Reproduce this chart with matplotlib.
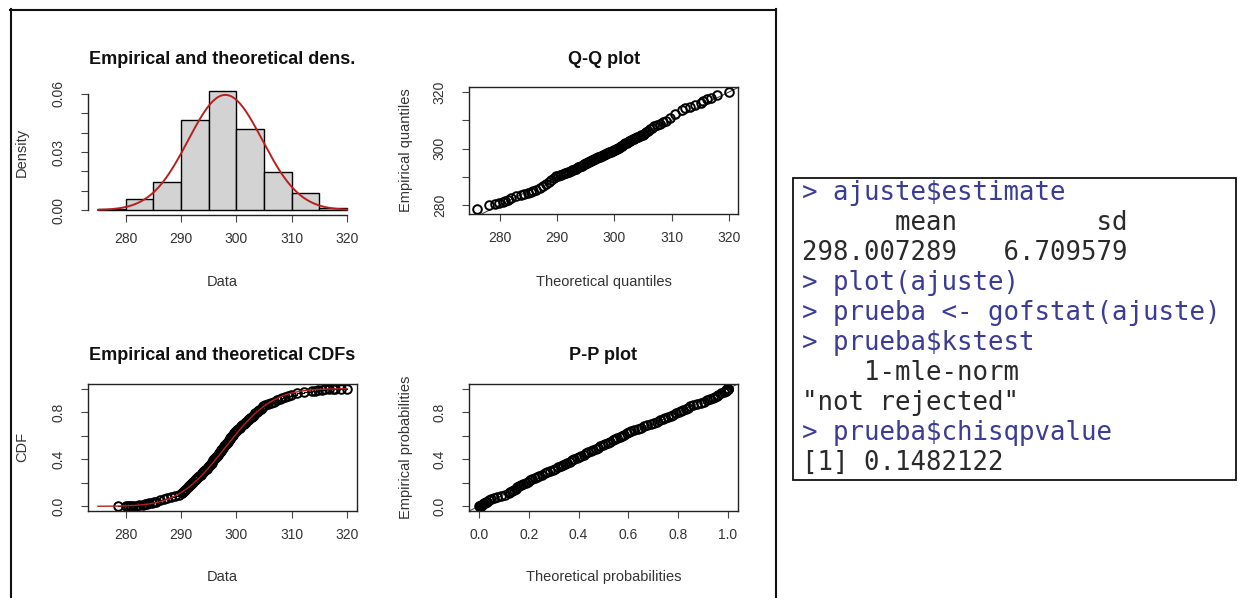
import statistics
import matplotlib
matplotlib.use("Agg")
import matplotlib.pyplot as plt
from matplotlib.lines import Line2D
from matplotlib.patches import Rectangle

plt.rcParams['font.family'] = ['Liberation Sans', 'DejaVu Sans']

W, H = 1238, 598

# ajuste$estimate (from the console output)
est_mean = 298.007289
est_sd = 6.709579

bin_edges = [275, 280, 285, 290, 295, 300, 305, 310, 315, 320]
bin_density = [0.0008, 0.0057, 0.0143, 0.0466, 0.0614, 0.0421, 0.0195, 0.0087, 0.0009]

emp_prob = [0.0005, 0.0015, 0.0025, 0.0035, 0.0045, 0.0055, 0.0065, 0.0085,
            0.012, 0.016, 0.020, 0.025, 0.030, 0.035,
            0.04, 0.05, 0.06, 0.07, 0.08, 0.09, 0.10,
            0.11, 0.12, 0.13, 0.14, 0.15, 0.16, 0.17, 0.18, 0.19, 0.20,
            0.21, 0.22, 0.23, 0.24, 0.25, 0.26, 0.27, 0.28, 0.29, 0.30,
            0.31, 0.32, 0.33, 0.34, 0.35, 0.36, 0.37, 0.38, 0.39, 0.40,
            0.41, 0.42, 0.43, 0.44, 0.45, 0.46, 0.47, 0.48, 0.49, 0.50,
            0.51, 0.52, 0.53, 0.54, 0.55, 0.56, 0.57, 0.58, 0.59, 0.60,
            0.61, 0.62, 0.63, 0.64, 0.65, 0.66, 0.67, 0.68, 0.69, 0.70,
            0.71, 0.72, 0.73, 0.74, 0.75, 0.76, 0.77, 0.78, 0.79, 0.80,
            0.81, 0.82, 0.83, 0.84, 0.85, 0.86, 0.87, 0.88, 0.89, 0.90,
            0.91, 0.92, 0.93, 0.94, 0.95, 0.96, 0.97, 0.98,
            0.984, 0.988, 0.992, 0.9945, 0.9955, 0.9965, 0.9975, 0.9985, 0.9995]
emp_quant = [278.6, 280.0, 280.35, 280.7, 280.9, 281.4, 281.8, 282.5,
             283.1, 283.5, 283.8, 284.3, 284.7, 285.1,
             285.45, 286.15, 286.85, 287.55, 288.25, 288.95, 289.65,
             290.11, 290.32, 290.54, 290.75, 290.97, 291.18, 291.39, 291.61, 291.82, 292.04,
             292.25, 292.47, 292.68, 292.90, 293.11, 293.33, 293.54, 293.76, 293.97, 294.18,
             294.40, 294.61, 294.83, 295.03, 295.20, 295.36, 295.52, 295.68, 295.85, 296.01,
             296.17, 296.34, 296.50, 296.66, 296.82, 296.99, 297.15, 297.31, 297.48, 297.64,
             297.80, 297.96, 298.13, 298.29, 298.45, 298.62, 298.78, 298.94, 299.10, 299.27,
             299.43, 299.59, 299.76, 299.92, 300.12, 300.36, 300.60, 300.83, 301.07, 301.31,
             301.55, 301.79, 302.02, 302.26, 302.50, 302.74, 302.98, 303.21, 303.45, 303.69,
             303.93, 304.17, 304.40, 304.64, 304.88, 305.26, 305.77, 306.28, 306.79, 307.30,
             307.81, 308.32, 308.83, 309.34, 309.85, 310.95, 312.30, 313.65,
             314.2, 314.7, 315.4, 316.1, 316.8, 317.5, 317.9, 318.9, 320.0]

# ticks
data_ticks = [280, 290, 300, 310, 320]
dens_ticks = [0.00, 0.01, 0.02, 0.03, 0.04, 0.05, 0.06]
dens_labels = ['0.00', '', '', '0.03', '', '', '0.06']
qq_ylabels = ['280', '', '300', '', '320']
prob_ticks = [0.0, 0.2, 0.4, 0.6, 0.8, 1.0]
prob_ylabels = ['0.0', '', '0.4', '', '0.8', '']
prob_xlabels = ['0.0', '0.2', '0.4', '0.6', '0.8', '1.0']

console_lines = [
    ("> ajuste$estimate", True),
    ("      mean         sd", False),
    ("298.007289   6.709579", False),
    ("> plot(ajuste)", True),
    ("> prueba <- gofstat(ajuste)", True),
    ("> prueba$kstest", True),
    ("    1-mle-norm", False),
    ('"not rejected"', False),
    ("> prueba$chisqpvalue", True),
    ("[1] 0.1482122", False),
]

fig = plt.figure(figsize=(W / 100, H / 100), dpi=100)


def px_axes(x0, y0, x1, y1):
    return fig.add_axes([x0 / W, 1 - y1 / H, (x1 - x0) / W, (y1 - y0) / H])


def px_text(x, y, s, **kw):
    fig.text(x / W, 1 - y / H, s, ha='center', va='center', **kw)


def r_style(ax):
    for s in ax.spines.values():
        s.set_linewidth(1.0)
        s.set_color('#222222')
    ax.tick_params(length=5, width=0.8, color='#444444', labelsize=10, labelcolor='#333333')
    ax.tick_params(axis='x', pad=7)
    ax.tick_params(axis='y', pad=11)
    for lbl in ax.get_xticklabels() + ax.get_yticklabels():
        lbl.set_fontfamily(['Liberation Sans Narrow', 'Liberation Sans'])
    plt.setp(ax.get_yticklabels(), rotation=90, va='center')


pt_kw = dict(linestyle='none', marker='o', mfc='none', mec='black', ms=6.2, mew=1.4)

nd = statistics.NormalDist(est_mean, est_sd)
grid = [275 + 0.25 * i for i in range(181)]

# --- density panel
ax1 = px_axes(88, 89, 357, 215)
ax1.bar(bin_edges[:-1], bin_density, width=5, align='edge', color='#d3d3d3',
        edgecolor='black', linewidth=1.0)
ax1.plot(grid, [nd.pdf(x) for x in grid], color='#b82020', lw=1.4)
ax1.set_xlim(273.2, 321.8)
ax1.set_ylim(-0.0025, 0.0625)
ax1.set_xticks(data_ticks, [str(t) for t in data_ticks])
ax1.set_yticks(dens_ticks, dens_labels)
ax1.spines['top'].set_visible(False)
ax1.spines['right'].set_visible(False)
ax1.spines['left'].set_bounds(0, 0.06)
ax1.spines['bottom'].set_bounds(280, 320)
r_style(ax1)

# --- Q-Q panel
ax2 = px_axes(469, 87, 738, 214)
theo_q = [nd.inv_cdf(p) for p in emp_prob]
ax2.axline((280, 280), slope=1, color='#333333', lw=0.7)
ax2.plot(theo_q, emp_quant, **pt_kw)
ax2.set_xlim(274.6, 321.6)
ax2.set_ylim(276.8, 321.8)
ax2.set_xticks(data_ticks, [str(t) for t in data_ticks])
ax2.set_yticks(data_ticks, qq_ylabels)
r_style(ax2)

# --- CDF panel
ax3 = px_axes(88, 384, 357, 511)
ax3.step(emp_quant, emp_prob, where='post', color='black', lw=0.8)
ax3.plot(emp_quant, emp_prob, **pt_kw)
ax3.plot(grid, [nd.cdf(x) for x in grid], color='#b82020', lw=1.0)
ax3.set_xlim(273.2, 321.8)
ax3.set_ylim(-0.04, 1.04)
ax3.set_xticks(data_ticks, [str(t) for t in data_ticks])
ax3.set_yticks(prob_ticks, prob_ylabels)
r_style(ax3)

# --- P-P panel
ax4 = px_axes(469, 384, 738, 511)
theo_p = [nd.cdf(q) for q in emp_quant]
ax4.axline((0, 0), slope=1, color='#333333', lw=0.7)
ax4.plot(theo_p, emp_prob, **pt_kw)
ax4.set_xlim(-0.04, 1.04)
ax4.set_ylim(-0.04, 1.04)
ax4.set_xticks(prob_ticks, prob_xlabels)
ax4.set_yticks(prob_ticks, prob_ylabels)
r_style(ax4)

# titles and axis labels
title_kw = dict(fontsize=13, fontweight='bold', color='#111111')
label_kw = dict(fontsize=10.5, color='#333333')
px_text(222, 59, "Empirical and theoretical dens.", **title_kw)
px_text(604, 59, "Q-Q plot", **title_kw)
px_text(222, 355, "Empirical and theoretical CDFs", **title_kw)
px_text(603, 355, "P-P plot", **title_kw)
px_text(222, 282, "Data", **label_kw)
px_text(604, 282, "Theoretical quantiles", **label_kw)
px_text(222, 577, "Data", **label_kw)
px_text(604, 577, "Theoretical probabilities", **label_kw)
px_text(22, 152, "Density", rotation=90, **label_kw)
px_text(406, 150, "Empirical quantiles", rotation=90, **label_kw)
px_text(22, 447, "CDF", rotation=90, **label_kw)
px_text(406, 447, "Empirical probabilities", rotation=90, **label_kw)

# outer frame around the plot window (bottom edge is cut off)
frame_kw = dict(transform=fig.transFigure, color='#111111', lw=1.5)
fig.add_artist(Line2D([10 / W, 776 / W], [1 - 9.5 / H, 1 - 9.5 / H], **frame_kw))
fig.add_artist(Line2D([10.5 / W, 10.5 / W], [1 - 9 / H, -0.01], **frame_kw))
fig.add_artist(Line2D([776 / W, 776 / W], [1 - 9 / H, -0.01], **frame_kw))

# console box
fig.add_artist(Rectangle((793 / W, 1 - 480 / H), (1236 - 793) / W, (480 - 178) / H,
                         transform=fig.transFigure, facecolor='white',
                         edgecolor='#111111', lw=1.3))
for i, (line, is_cmd) in enumerate(console_lines):
    fig.text(802 / W, 1 - (193 + 30 * i) / H, line, ha='left', va='center',
             family='DejaVu Sans Mono', fontsize=18.5,
             color='#3c3c96' if is_cmd else '#2a2a2a')

fig.savefig('out.png', dpi=100)
